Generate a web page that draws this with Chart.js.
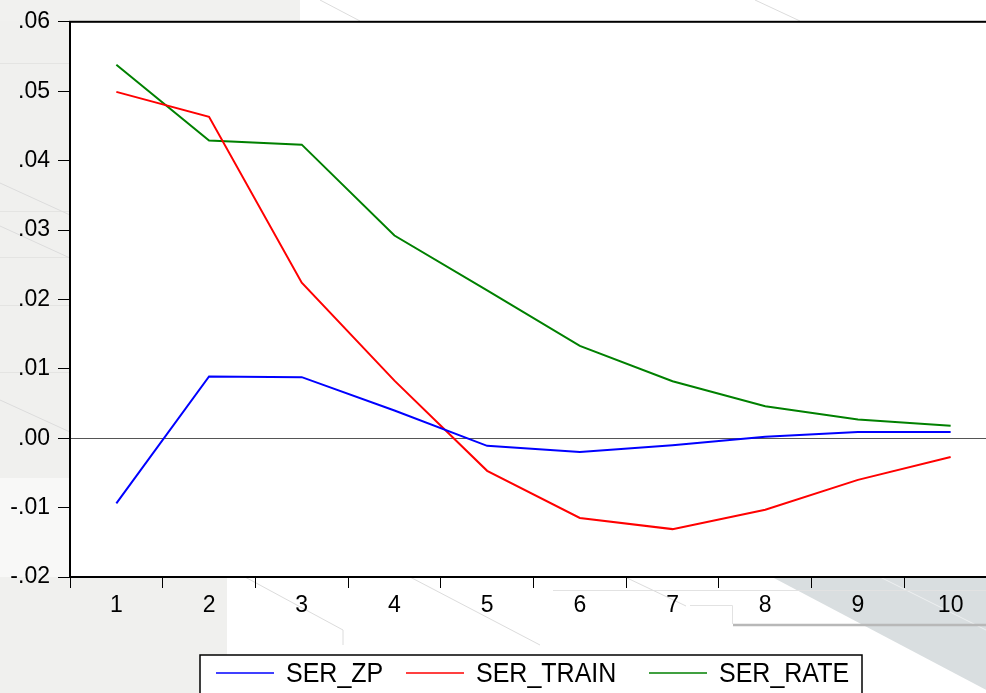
<!DOCTYPE html>
<html>
<head>
<meta charset="utf-8">
<script src="https://cdn.jsdelivr.net/npm/chart.js@4/dist/chart.umd.min.js"></script>
<style>
  html, body { margin: 0; padding: 0; overflow: hidden; background: #ffffff; }
  #wrap { width: 1010px; height: 693px; }
</style>
</head>
<body>
<div id="wrap"><canvas id="c" width="1010" height="693"></canvas></div>
<script>
// Response horizon (periods)
const categories = ['1', '2', '3', '4', '5', '6', '7', '8', '9', '10'];

// Series values
const serZp    = [-0.0094, 0.0089, 0.0088, 0.0040, -0.0011, -0.0020, -0.0010, 0.0002, 0.0009, 0.0009];
const serTrain = [0.0499, 0.0463, 0.0224, 0.0083, -0.0047, -0.0115, -0.0131, -0.0103, -0.0060, -0.0027];
const serRate  = [0.0538, 0.0429, 0.0423, 0.0292, 0.0213, 0.0133, 0.0082, 0.0046, 0.0027, 0.0018];

const seriesNames = ['SER_ZP', 'SER_TRAIN', 'SER_RATE'];

// Y axis range and step
const yMin = -0.02;
const yMax = 0.06;
const yStep = 0.01;

const FONT = "'Liberation Sans', Arial, sans-serif";

// ".05" / "-.01" style labels
function fmtTick(v) {
  const r = Math.round(v * 100) / 100;
  const s = Math.abs(r).toFixed(2).replace(/^0/, '');
  return (r < 0 ? '-' : '') + s;
}

// Decorative backdrop behind the graph
const backdrop = {
  id: 'backdrop',
  beforeDraw(chart) {
    const ctx = chart.ctx;
    const W = chart.width, H = chart.height;
    ctx.save();
    ctx.fillStyle = '#ffffff';
    ctx.fillRect(0, 0, W, H);

    // left grey strip
    ctx.fillStyle = '#f0f0ee';
    ctx.fillRect(0, 0, 70, 478);
    ctx.fillStyle = '#f8f8f7';
    ctx.fillRect(0, 478, 70, 100);
    // top-left grey
    ctx.fillStyle = '#f1f1ef';
    ctx.fillRect(0, 0, 300, 21);
    // bottom-left grey block
    ctx.fillStyle = '#f0f0ee';
    ctx.fillRect(0, 577, 227, H - 577);

    // faint bands on the left strip
    ctx.strokeStyle = '#e4e4e2';
    ctx.lineWidth = 1;
    [63, 211, 257, 305, 372].forEach(y => {
      ctx.beginPath(); ctx.moveTo(0, y + 0.5); ctx.lineTo(70, y + 0.5); ctx.stroke();
    });

    // bottom-right grey-blue wedge
    ctx.fillStyle = '#d9dee0';
    ctx.beginPath();
    ctx.moveTo(772, 577);
    ctx.lineTo(W, 577);
    ctx.lineTo(W, 693);
    ctx.lineTo(992, 693);
    ctx.closePath();
    ctx.fill();
    ctx.strokeStyle = '#eef0f1';
    ctx.lineWidth = 1;
    ctx.beginPath();
    ctx.moveTo(880, 577); ctx.lineTo(986, 630);
    ctx.stroke();

    // light panel outline under the x labels
    ctx.strokeStyle = '#e2e2e2';
    ctx.lineWidth = 1;
    ctx.beginPath();
    ctx.moveTo(553, 590.5); ctx.lineTo(W, 590.5);
    ctx.stroke();
    ctx.beginPath();
    ctx.moveTo(690, 605.5); ctx.lineTo(732.5, 605.5); ctx.lineTo(732.5, 624);
    ctx.stroke();
    ctx.strokeStyle = '#b8b8b8';
    ctx.lineWidth = 2.5;
    ctx.beginPath();
    ctx.moveTo(733, 625); ctx.lineTo(W, 625);
    ctx.stroke();

    // faint diagonal strokes
    ctx.strokeStyle = '#dcdcdc';
    ctx.lineWidth = 1;
    const diag = [
      [[245, 577], [343, 630], [343, 645]],
      [[410, 577], [540, 645]],
      [[625, 577], [686, 606]],
      [[0, 183], [70, 215]],
      [[0, 226], [70, 258]],
      [[0, 400], [70, 432]],
      [[320, 0], [360, 21]],
      [[755, 0], [800, 21]]
    ];
    diag.forEach(pts => {
      ctx.beginPath();
      ctx.moveTo(pts[0][0], pts[0][1]);
      for (let i = 1; i < pts.length; i++) ctx.lineTo(pts[i][0], pts[i][1]);
      ctx.stroke();
    });
    ctx.restore();

    // white plotting panel
    const a = chart.chartArea;
    ctx.save();
    ctx.fillStyle = '#ffffff';
    ctx.fillRect(a.left, a.top, a.right - a.left, a.bottom - a.top);
    ctx.restore();
  },
  afterDraw(chart) {
    const ctx = chart.ctx;
    const a = chart.chartArea;
    ctx.save();
    // frame
    ctx.strokeStyle = '#000000';
    ctx.lineWidth = 2;
    ctx.strokeRect(a.left, a.top, a.right - a.left, a.bottom - a.top);

    // boxed legend
    const bx = 200, by = 655, bw = 662, bh = 60;
    ctx.fillStyle = '#ffffff';
    ctx.fillRect(bx, by, bw, bh);
    ctx.strokeStyle = '#000000';
    ctx.lineWidth = 1.5;
    ctx.strokeRect(bx, by, bw, bh);
    const ly = 673;
    const itemX = [216, 406, 649];
    ctx.font = '25px ' + FONT;
    ctx.textBaseline = 'middle';
    ctx.textAlign = 'left';
    chart.data.datasets.forEach((ds, i) => {
      const x0 = itemX[i];
      ctx.strokeStyle = ds.borderColor;
      ctx.lineWidth = 1.5;
      ctx.beginPath();
      ctx.moveTo(x0, ly); ctx.lineTo(x0 + 58, ly);
      ctx.stroke();
      ctx.fillStyle = '#000000';
      ctx.save();
      ctx.translate(x0 + 70, ly + 1);
      ctx.scale(1, 1.12);
      ctx.fillText(ds.label, 0, 0);
      ctx.restore();
    });
    ctx.restore();
  }
};

new Chart(document.getElementById('c'), {
  type: 'line',
  data: {
    labels: categories,
    datasets: [
      { label: seriesNames[0], data: serZp,    borderColor: '#0000ff' },
      { label: seriesNames[1], data: serTrain, borderColor: '#ff0000' },
      { label: seriesNames[2], data: serRate,  borderColor: '#008000' }
    ].map(d => Object.assign(d, {
      borderWidth: 2,
      pointRadius: 0,
      pointHoverRadius: 0,
      tension: 0,
      fill: false
    }))
  },
  options: {
    responsive: false,
    animation: false,
    events: [],
    layout: { padding: { top: 21, right: 13, bottom: 0, left: 0 } },
    plugins: {
      legend: { display: false },
      tooltip: { enabled: false }
    },
    scales: {
      x: {
        type: 'category',
        offset: true,
        afterFit(s) { s.height = 116; },
        grid: {
          offset: true,
          drawOnChartArea: false,
          drawTicks: true,
          tickLength: 11,
          tickColor: '#000000',
          tickWidth: 1
        },
        border: { display: true, color: '#000000', width: 2 },
        ticks: {
          color: '#000000',
          padding: 4,
          maxRotation: 0,
          autoSkip: false,
          font: { family: FONT, size: 23 }
        }
      },
      y: {
        min: yMin,
        max: yMax,
        afterFit(s) { s.width = 70; },
        grid: {
          drawOnChartArea: true,
          drawTicks: true,
          tickLength: 12,
          tickColor: '#000000',
          tickWidth: 1,
          lineWidth: 1,
          color: (c) => (c.tick && Math.abs(c.tick.value) < 1e-9) ? '#555555' : 'rgba(0,0,0,0)'
        },
        border: { display: true, color: '#000000', width: 2 },
        ticks: {
          stepSize: yStep,
          color: '#000000',
          padding: 8,
          font: { family: FONT, size: 23 },
          callback: (v) => fmtTick(v)
        }
      }
    }
  },
  plugins: [backdrop]
});
</script>
</body>
</html>
